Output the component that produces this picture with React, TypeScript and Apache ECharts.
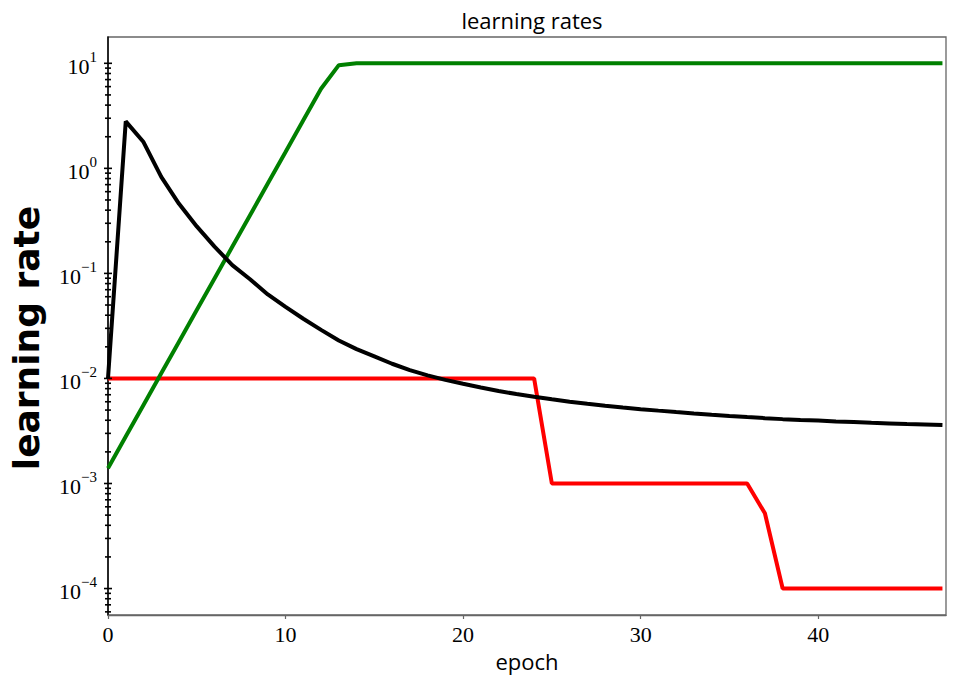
import React, { useEffect, useRef } from 'react';
import * as echarts from 'echarts';

const EPOCHS = [
  0, 1, 2, 3, 4, 5, 6, 7, 8, 9, 10, 11, 12, 13, 14, 15, 16, 17, 18, 19, 20, 21, 22, 23,
  24, 25, 26, 27, 28, 29, 30, 31, 32, 33, 34, 35, 36, 37, 38, 39, 40, 41, 42, 43, 44, 45, 46, 47,
];

const RED_LR = [
  0.01, 0.01, 0.01, 0.01, 0.01, 0.01, 0.01, 0.01, 0.01, 0.01, 0.01, 0.01, 0.01, 0.01, 0.01, 0.01,
  0.01, 0.01, 0.01, 0.01, 0.01, 0.01, 0.01, 0.01, 0.01,
  0.001, 0.001, 0.001, 0.001, 0.001, 0.001, 0.001, 0.001, 0.001, 0.001, 0.001, 0.001,
  0.00052,
  0.0001, 0.0001, 0.0001, 0.0001, 0.0001, 0.0001, 0.0001, 0.0001, 0.0001, 0.0001,
];

const GREEN_LR = [
  0.0014, 0.0028, 0.0056, 0.0112, 0.0224, 0.0448, 0.0896, 0.179, 0.358, 0.717, 1.43, 2.87, 5.73, 9.6,
  10, 10, 10, 10, 10, 10, 10, 10, 10, 10, 10, 10, 10, 10, 10, 10, 10, 10, 10, 10, 10, 10, 10, 10,
  10, 10, 10, 10, 10, 10, 10, 10, 10, 10,
];

const BLACK_LR = [
  0.01, 2.8, 1.78, 0.83, 0.46, 0.28, 0.18, 0.12, 0.088, 0.063, 0.048, 0.037, 0.029, 0.023, 0.019,
  0.0162, 0.0138, 0.012, 0.0107, 0.0097, 0.0089, 0.0082, 0.0076, 0.0071, 0.0067, 0.00633, 0.00601,
  0.00573, 0.00549, 0.00528, 0.0051, 0.00494, 0.00479, 0.00465, 0.00452, 0.0044, 0.00429, 0.00419,
  0.0041, 0.00403, 0.00397, 0.0039, 0.00384, 0.00378, 0.00373, 0.00368, 0.00364, 0.0036,
];

const X_TICKS = [0, 10, 20, 30, 40];
const Y_MAJOR_TICKS = [1e-4, 1e-3, 1e-2, 1e-1, 1, 10];
const Y_MINOR_TICKS = [
  6e-5, 7e-5, 8e-5, 9e-5,
  2e-4, 3e-4, 4e-4, 5e-4, 6e-4, 7e-4, 8e-4, 9e-4,
  2e-3, 3e-3, 4e-3, 5e-3, 6e-3, 7e-3, 8e-3, 9e-3,
  2e-2, 3e-2, 4e-2, 5e-2, 6e-2, 7e-2, 8e-2, 9e-2,
  0.2, 0.3, 0.4, 0.5, 0.6, 0.7, 0.8, 0.9,
  2, 3, 4, 5, 6, 7, 8, 9,
];

const Y_MIN = 5.6e-5;
const Y_MAX = 17.8;
const X_MAX = 47.2;

const pairs = (ys: number[]) => EPOCHS.map((e, i) => [e, ys[i]]);

export default function App() {
  const ref = useRef<HTMLDivElement>(null);
  useEffect(() => {
    if (!ref.current) return;
    const chart = echarts.init(ref.current, undefined, { renderer: 'svg' });
    const tickData = [
      ...Y_MAJOR_TICKS.map((v) => [0, v, 4]),
      ...Y_MINOR_TICKS.map((v) => [0, v, 3]),
    ];
    chart.setOption({
      animation: false,
      backgroundColor: '#fff',
      title: {
        text: 'learning rates',
        left: 527,
        top: 4,
        textAlign: 'center',
        textStyle: { fontFamily: 'Open Sans', fontSize: 22, fontWeight: 'normal', color: '#000' },
      },
      grid: {
        left: 108,
        right: 10,
        top: 37,
        bottom: 72,
        show: true,
        borderColor: '#666',
        borderWidth: 1.3,
        backgroundColor: 'transparent',
      },
      xAxis: {
        type: 'value',
        min: 0,
        max: X_MAX,
        interval: 10,
        splitLine: { show: false },
        axisLine: { lineStyle: { color: '#666', width: 1.3 } },
        axisTick: { length: 4, customValues: X_TICKS, lineStyle: { color: '#666', width: 1.2 } },
        axisLabel: {
          customValues: X_TICKS,
          fontFamily: 'Liberation Serif',
          fontSize: 22,
          color: '#000',
          margin: 8,
        },
        name: 'epoch',
        nameLocation: 'middle',
        nameGap: 34,
        nameTextStyle: { fontFamily: 'Open Sans', fontSize: 22, color: '#000' },
      },
      yAxis: {
        type: 'log',
        logBase: 10,
        min: Y_MIN,
        max: Y_MAX,
        splitLine: { show: false },
        axisLine: { lineStyle: { color: '#000', width: 1.5 } },
        axisTick: { show: false },
        minorTick: { show: false },
        axisLabel: {
          margin: 11,
          color: '#000',
          formatter: (v: number) => {
            const l = Math.log10(v);
            const e = Math.round(l);
            if (Math.abs(l - e) > 1e-6) return '';
            return `{b|10}{s|${e < 0 ? '−' : ''}${Math.abs(e)}}`;
          },
          rich: {
            b: { fontFamily: 'Liberation Serif', fontSize: 22, color: '#000', verticalAlign: 'bottom', lineHeight: 28 },
            s: { fontFamily: 'Liberation Serif', fontSize: 15, color: '#000', verticalAlign: 'top', lineHeight: 16 },
          },
        },
        name: 'learning rate',
        nameLocation: 'middle',
        nameGap: 64,
        nameTextStyle: {
          fontFamily: 'DejaVu Sans',
          fontWeight: 'bold',
          fontSize: 36,
          color: '#000',
          padding: [0, 24, 0, 0],
        },
      },
      series: [
        {
          type: 'line',
          data: pairs(RED_LR),
          showSymbol: false,
          symbol: 'none',
          lineStyle: { color: '#ff0000', width: 4 },
          z: 2,
        },
        {
          type: 'line',
          data: pairs(GREEN_LR),
          showSymbol: false,
          symbol: 'none',
          lineStyle: { color: '#008000', width: 4 },
          z: 3,
        },
        {
          type: 'line',
          data: pairs(BLACK_LR),
          showSymbol: false,
          symbol: 'none',
          lineStyle: { color: '#000000', width: 4 },
          z: 4,
        },
        {
          type: 'custom',
          coordinateSystem: 'cartesian2d',
          data: tickData,
          silent: true,
          clip: false,
          z: 5,
          renderItem: (params: any, api: any) => {
            const p = api.coord([api.value(0), api.value(1)]);
            const half = api.value(2);
            return {
              type: 'line',
              shape: { x1: p[0] - half, y1: p[1], x2: p[0] + half, y2: p[1] },
              style: { stroke: '#000', lineWidth: 1.6 },
            };
          },
        },
      ],
    });
    return () => chart.dispose();
  }, []);
  return (
    <div
      ref={ref}
      style={{ position: 'fixed', left: 0, top: 0, width: 956, height: 687, background: '#fff' }}
    />
  );
}
